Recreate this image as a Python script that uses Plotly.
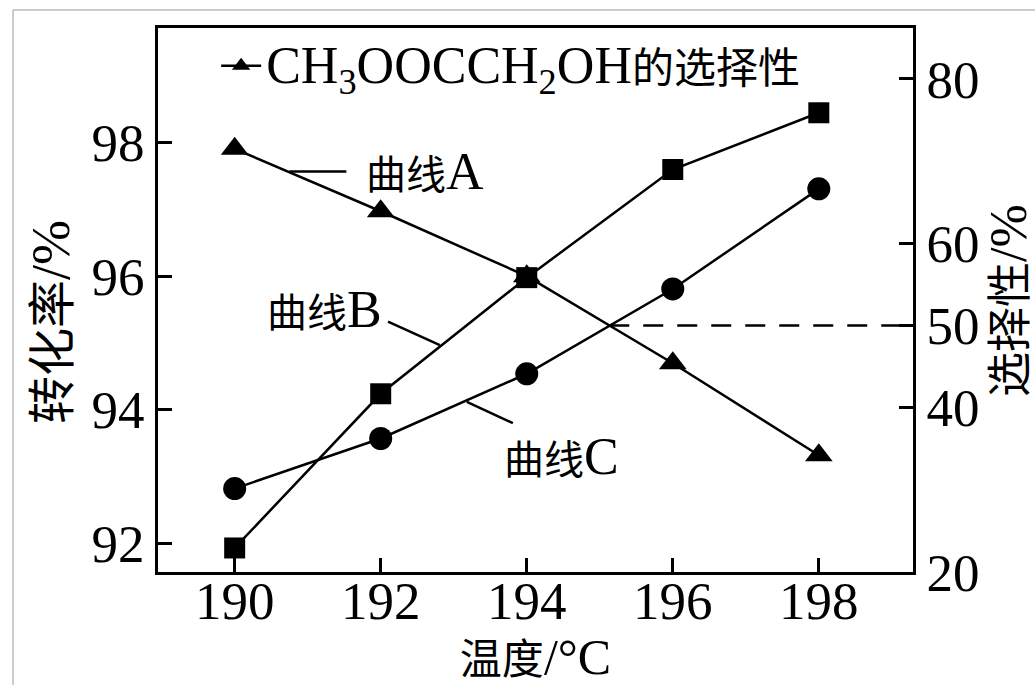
import plotly.graph_objects as go

# Data
temps = [190, 192, 194, 196, 198]
selectivity_A = [71.5, 63.9, 56.0, 45.4, 34.2]      # right axis, %
conversion_B = [91.93, 94.24, 95.98, 97.60, 98.45]   # left axis, %
conversion_C = [92.82, 93.57, 94.54, 95.81, 97.31]   # left axis, %
dash_x = [195.13, 199.3]
dash_y = [50, 50]

left_ticks = [92, 94, 96, 98]
right_ticks = [20, 40, 50, 60, 80]
x_ticks = [190, 192, 194, 196, 198]

def mix(cjk, latin, cjk_size, latin_size):
    return (f'<span style="font-size:{cjk_size}px">{cjk}</span>'
            f'<span style="font-size:{latin_size}px">{latin}</span>')

legend_name = ('<span style="font-size:52px">CH<sub>3</sub>OOCCH<sub>2</sub>OH</span>'
               '<span style="font-size:42px">的选择性</span>')

FONT = "Liberation Serif, Noto Sans CJK SC, serif"
W, H = 1035, 685
L, R, T, B = 158, 122, 28, 113

fig = go.Figure()

fig.add_trace(go.Scatter(
    x=temps, y=conversion_B, mode="lines+markers", name="曲线B",
    line=dict(color="black", width=2.5),
    marker=dict(symbol="square", size=21, color="black"),
    showlegend=False))
fig.add_trace(go.Scatter(
    x=temps, y=conversion_C, mode="lines+markers", name="曲线C",
    line=dict(color="black", width=2.5),
    marker=dict(symbol="circle", size=23, color="black"),
    showlegend=False))
fig.add_trace(go.Scatter(
    x=temps, y=selectivity_A, mode="lines+markers", name=legend_name,
    line=dict(color="black", width=2.5),
    marker=dict(symbol="triangle-up", size=24, color="black"),
    yaxis="y2", showlegend=True))
fig.add_trace(go.Scatter(
    x=dash_x, y=dash_y, mode="lines", yaxis="y2",
    line=dict(color="black", width=2.5, dash="20px,14px"),
    showlegend=False, hoverinfo="skip"))

axis_common = dict(
    showgrid=False, zeroline=False, showline=True, linecolor="black",
    linewidth=3, ticks="inside", ticklen=14, tickwidth=2.5, tickcolor="black",
    tickfont=dict(family=FONT, size=53, color="black"), automargin=False,
)

pw, ph = W - L - R, H - T - B
def px(xp): return (xp - L) / pw
def py(yp): return (H - B - yp) / ph

fig.update_layout(
    width=W, height=H,
    margin=dict(l=L, r=R, t=T, b=B),
    paper_bgcolor="white", plot_bgcolor="white",
    font=dict(family=FONT, color="black"),
    xaxis=dict(range=[188.95, 199.29], tickvals=x_ticks, mirror=True,
               ticklabelstandoff=-20,
               title=dict(text=mix("温度", "/°C", 42, 50), font=dict(family=FONT, size=42), standoff=6),
               **axis_common),
    yaxis=dict(range=[91.57, 99.72], tickvals=left_ticks, **axis_common),
    yaxis2=dict(range=[20, 86.2], tickvals=right_ticks, overlaying="y", side="right",
                **axis_common),
    legend=dict(x=0.077, y=0.995, xanchor="left", yanchor="top",
                bgcolor="rgba(0,0,0,0)", borderwidth=0,
                font=dict(family=FONT, size=44, color="black"),
                itemwidth=40),
    showlegend=True,
)

# axis titles (vertical)
fig.add_annotation(x=px(51), y=py(322), xref="paper", yref="paper", textangle=-90,
                   xanchor="center", yanchor="middle",
                   text=mix("转化率", "/%", 48, 54), showarrow=False,
                   font=dict(family=FONT, size=48, color="black"))
fig.add_annotation(x=px(1008), y=py(301), xref="paper", yref="paper", textangle=-90,
                   xanchor="center", yanchor="middle",
                   text=mix("选择性", "/%", 45, 52), showarrow=False,
                   font=dict(family=FONT, size=45, color="black"))

# curve labels with leader lines
labels = [
    ("曲线", "A", 192.60, 97.57, [(190.75, 97.57), (191.53, 97.57)]),
    ("曲线", "B", 191.23, 95.50, [(192.10, 95.32), (192.81, 94.97)]),
    ("曲线", "C", 194.48, 93.30, [(193.18, 94.12), (193.81, 93.80)]),
]
for cjk, lat, tx, ty, seg in labels:
    fig.add_annotation(x=tx, y=ty, xref="x", yref="y", text=mix(cjk, lat, 40, 52), showarrow=False,
                       font=dict(family=FONT, size=40, color="black"))
    fig.add_shape(type="line", xref="x", yref="y",
                  x0=seg[0][0], y0=seg[0][1], x1=seg[1][0], y1=seg[1][1],
                  line=dict(color="black", width=2.5))

# thin grey scan frame
fig.add_shape(type="line", xref="paper", yref="paper", x0=px(13), y0=py(10), x1=px(1035), y1=py(10),
              line=dict(color="#bbbbbb", width=1.5))
fig.add_shape(type="line", xref="paper", yref="paper", x0=px(13), y0=py(10), x1=px(13), y1=py(685),
              line=dict(color="#bbbbbb", width=1.5))

fig.write_html("out.html", config={"displayModeBar": False},
               post_script="document.body.style.margin='0';document.body.style.overflow='hidden';")
